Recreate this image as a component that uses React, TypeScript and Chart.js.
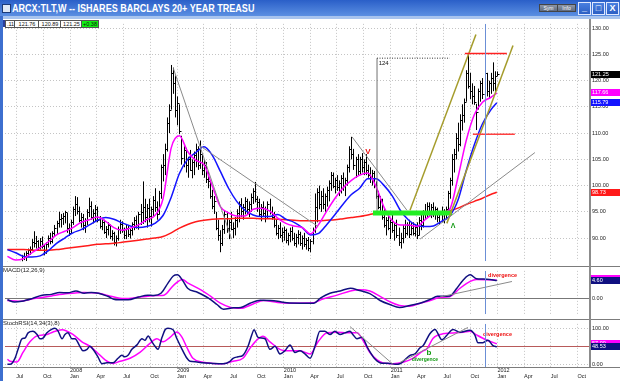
import React, { useEffect, useRef } from "react";
import { Chart, registerables } from "chart.js";

Chart.register(...registerables);

// ---------------- data (weekly bars, first bar = week ending 2007-06-01) ----------------
const firstBarDate = "2007-06-01";

const barHigh = [
  85.5, 85.4, 85.0, 84.8, 84.5, 84.8, 85.5, 86.8, 87.2, 87.5,
  88.0, 88.4, 89.8, 91.3, 90.4, 89.6, 90.0, 90.3, 88.8, 89.2,
  90.5, 91.0, 91.3, 92.5, 93.3, 95.0, 94.6, 94.8, 95.2, 94.8,
  92.8, 93.5, 96.0, 98.0, 97.8, 96.0, 94.8, 94.6, 93.8, 95.5,
  97.7, 97.0, 95.5, 96.3, 96.0, 94.2, 93.8, 93.5, 92.3, 93.0,
  92.6, 91.5, 91.2, 90.5, 92.2, 93.5, 93.2, 92.0, 92.6, 92.5,
  91.8, 93.0, 94.0, 94.3, 95.0, 96.5, 100.8, 97.5, 96.5, 97.5,
  96.0, 98.0, 99.5, 97.0, 99.0, 104.0, 106.0, 108.0, 113.0, 115.5,
  123.0, 122.5, 121.0, 117.0, 115.5, 109.5, 107.5, 107.2, 105.5, 106.8,
  105.0, 106.5, 108.0, 107.5, 108.6, 106.0, 105.0, 104.5, 102.8, 101.0,
  99.2, 98.0, 95.0, 93.5, 91.5, 92.5, 95.3, 95.0, 93.5, 95.0,
  93.0, 94.0, 95.5, 97.0, 97.6, 96.5, 97.8, 97.5, 97.0, 98.5,
  99.5, 100.7, 98.0, 97.5, 96.5, 97.0, 96.0, 97.0, 97.5, 96.0,
  95.0, 93.5, 92.5, 93.0, 92.0, 92.2, 91.8, 91.0, 92.0, 92.2,
  91.0, 90.8, 91.5, 91.2, 90.5, 91.0, 90.0, 90.2, 89.8, 92.0,
  98.5, 99.5, 100.0, 99.0, 99.5, 98.5, 99.8, 101.0, 102.6, 102.5,
  101.5, 102.0, 101.0, 102.0, 102.5, 101.5, 104.0, 107.5, 109.3, 107.0,
  105.5, 106.0, 105.5, 106.2, 105.0, 106.0, 104.0, 103.5, 103.0, 102.8,
  100.8, 99.0, 98.0, 97.5, 95.5, 94.0, 95.0, 93.5, 94.5, 93.0,
  93.5, 92.0, 91.0, 92.5, 93.5, 93.0, 93.5, 93.0, 93.0, 92.5,
  93.0, 94.0, 94.6, 95.3, 96.5, 96.8, 96.8, 96.5, 96.8, 96.0,
  95.8, 95.0, 96.0, 95.5, 96.0, 99.0, 101.5, 106.0, 107.0, 110.0,
  112.0, 113.6, 115.5, 116.6, 122.0, 125.2, 121.5, 119.5, 119.0, 115.6,
  118.5, 120.0, 120.5, 123.0, 121.5, 120.0, 121.5, 123.5, 121.8, 121.76,
];
const barLow = [
  84.8, 84.2, 83.8, 83.5, 82.8, 83.0, 84.0, 85.3, 85.8, 85.6,
  86.5, 86.8, 87.5, 88.2, 88.0, 87.6, 87.8, 88.0, 86.7, 87.0,
  88.2, 88.8, 89.0, 90.3, 90.8, 92.0, 92.0, 92.5, 92.8, 91.0,
  90.4, 90.8, 92.5, 94.2, 94.5, 93.0, 92.0, 91.5, 91.0, 92.5,
  94.0, 93.5, 92.8, 93.2, 93.0, 91.8, 91.5, 90.8, 90.0, 90.5,
  89.8, 89.5, 88.6, 88.4, 89.5, 90.8, 91.0, 89.8, 89.8, 90.2,
  89.9, 90.5, 91.5, 91.8, 91.6, 92.5, 92.7, 93.0, 92.0, 93.0,
  92.2, 94.0, 95.0, 93.5, 94.5, 97.5, 100.8, 102.0, 106.5, 110.0,
  114.5, 117.5, 113.0, 111.5, 109.8, 104.0, 103.5, 102.5, 101.5, 102.8,
  101.4, 102.0, 103.5, 103.0, 103.2, 102.0, 101.5, 100.5, 99.5, 97.5,
  95.5, 94.6, 91.5, 89.5, 87.3, 88.5, 90.8, 91.0, 89.8, 91.5,
  90.0, 90.5, 92.0, 93.0, 94.0, 93.5, 94.5, 94.5, 94.0, 95.0,
  96.5, 96.8, 95.0, 94.0, 93.2, 94.0, 93.0, 93.8, 94.5, 93.5,
  92.0, 90.5, 89.8, 90.0, 89.2, 89.5, 89.0, 88.6, 89.2, 89.5,
  88.5, 88.2, 88.8, 88.5, 87.8, 88.3, 87.8, 87.5, 87.3, 88.8,
  91.0, 93.0, 95.5, 95.0, 95.5, 95.0, 96.0, 97.0, 99.0, 99.5,
  98.5, 99.0, 98.0, 98.5, 99.0, 98.0, 100.0, 102.5, 105.0, 103.0,
  101.5, 102.0, 102.0, 102.5, 102.0, 102.0, 101.5, 100.5, 100.0, 99.5,
  97.5, 95.5, 95.2, 93.5, 92.0, 90.5, 91.5, 89.8, 91.0, 89.5,
  90.0, 88.5, 88.0, 89.0, 90.0, 90.5, 90.0, 90.5, 90.5, 90.3,
  89.8, 90.5, 91.5, 92.0, 93.5, 94.0, 94.2, 93.8, 94.0, 93.5,
  93.0, 92.5, 93.0, 92.8, 93.5, 95.0, 97.5, 100.0, 102.5, 105.0,
  106.5, 107.5, 110.5, 112.0, 116.0, 118.5, 116.5, 115.5, 115.4, 110.6,
  114.5, 116.0, 116.5, 117.5, 117.0, 116.6, 117.5, 118.0, 117.8, 120.89,
];
const barClose = [
  85.0, 84.5, 84.2, 84.0, 83.2, 84.5, 85.2, 86.5, 86.3, 87.2,
  87.8, 88.0, 89.3, 89.0, 89.5, 88.3, 89.4, 88.5, 87.3, 88.8,
  90.0, 89.4, 91.0, 92.0, 92.8, 93.6, 93.8, 94.2, 94.9, 92.0,
  91.0, 93.0, 95.5, 96.5, 95.2, 93.5, 94.0, 92.5, 93.5, 95.0,
  96.2, 94.0, 94.8, 95.6, 93.5, 92.3, 93.0, 91.2, 91.8, 92.4,
  90.3, 91.0, 89.2, 90.0, 91.8, 92.6, 91.5, 90.5, 92.0, 90.8,
  91.5, 92.6, 93.4, 92.2, 94.5, 95.0, 96.0, 94.0, 95.8, 94.2,
  95.5, 97.2, 96.0, 94.5, 98.5, 103.5, 104.0, 107.0, 112.0, 114.5,
  121.5, 119.5, 114.5, 115.8, 110.5, 105.2, 106.8, 104.0, 105.0, 103.0,
  104.5, 105.8, 107.0, 104.0, 106.0, 103.0, 104.0, 101.2, 100.8, 98.0,
  96.2, 97.0, 92.0, 90.5, 89.0, 91.8, 94.5, 92.0, 93.0, 91.8,
  92.0, 93.5, 94.8, 96.5, 95.2, 96.0, 97.0, 95.5, 96.5, 97.8,
  99.0, 97.5, 96.8, 94.5, 96.0, 94.8, 95.5, 96.5, 95.0, 94.0,
  92.5, 91.0, 92.0, 90.5, 91.2, 91.5, 89.6, 90.5, 91.4, 90.0,
  89.0, 90.2, 90.8, 89.0, 90.0, 88.8, 89.6, 88.2, 89.5, 91.6,
  96.0, 98.8, 96.5, 98.0, 96.5, 98.0, 99.2, 100.5, 102.0, 100.0,
  101.0, 99.8, 100.5, 101.5, 100.0, 101.0, 103.5, 107.0, 106.0, 104.0,
  105.0, 102.8, 105.0, 103.5, 104.5, 103.0, 102.0, 101.5, 102.5, 100.2,
  98.0, 96.0, 97.5, 94.0, 92.5, 93.5, 92.0, 93.0, 91.5, 92.5,
  90.5, 89.2, 90.0, 92.0, 91.0, 92.5, 90.8, 92.0, 91.0, 92.2,
  90.5, 93.5, 92.5, 94.8, 95.0, 96.2, 94.8, 96.0, 95.0, 95.5,
  94.0, 94.5, 93.5, 95.0, 95.5, 98.5, 101.0, 105.0, 106.0, 109.0,
  108.0, 112.5, 113.5, 116.0, 121.5, 119.0, 118.0, 117.0, 116.0, 114.0,
  118.0, 119.5, 117.5, 121.5, 118.0, 119.5, 120.5, 119.5, 120.9, 121.25,
];

const maWeeks = [0, 4, 8, 12, 16, 20, 24, 28, 32, 36, 40, 44, 48, 52, 56, 60, 64, 68, 72, 76, 80, 84, 88, 92, 96, 100, 104, 108, 112, 116, 120, 124, 128, 132, 136, 140, 144, 148, 152, 156, 160, 164, 168, 172, 176, 180, 184, 188, 192, 196, 200, 204, 208, 212, 216, 220, 224, 228, 232, 236, 239];
const maShort = [86.5, 85.8, 86.1, 87.2, 88.2, 89.3, 90.6, 91.3, 92.0, 93.0, 93.5, 94.0, 93.2, 92.0, 91.5, 91.9, 92.5, 93.5, 94.3, 97.5, 107.2, 109.5, 106.5, 104.8, 104.0, 100.0, 96.0, 94.8, 94.2, 94.2, 95.5, 95.7, 95.2, 93.8, 92.8, 92.3, 92.0, 90.8, 92.6, 95.2, 97.6, 99.6, 101.0, 102.0, 102.4, 99.8, 95.8, 93.3, 92.5, 92.5, 92.2, 93.5, 94.6, 94.8, 95.5, 101.5, 108.5, 113.5, 115.9, 116.8, 117.66];
const maMid = [87.8, 87.2, 86.5, 86.4, 86.6, 87.6, 89.0, 90.0, 91.0, 91.6, 92.5, 93.4, 93.9, 93.6, 92.9, 92.3, 92.0, 92.2, 92.8, 94.3, 97.8, 102.3, 105.0, 106.3, 107.4, 105.8, 102.7, 99.5, 97.0, 95.3, 94.4, 94.1, 94.1, 94.5, 93.6, 93.0, 92.0, 90.6, 90.9, 92.6, 94.5, 96.5, 98.3, 99.5, 101.3, 101.3, 100.0, 98.0, 95.2, 93.4, 92.4, 92.2, 92.3, 93.2, 94.2, 97.2, 102.8, 107.8, 111.8, 114.4, 115.79];
const maLong = [87.8, 87.8, 87.8, 87.7, 87.7, 87.7, 87.8, 88.0, 88.2, 88.4, 88.6, 88.8, 88.9, 89.0, 89.2, 89.4, 89.6, 89.8, 90.0, 90.3, 91.0, 91.9, 92.6, 93.1, 93.4, 93.6, 93.7, 93.7, 93.8, 93.8, 93.8, 93.7, 93.7, 93.6, 93.5, 93.4, 93.3, 93.3, 93.3, 93.4, 93.5, 93.7, 93.9, 94.1, 94.4, 94.7, 94.7, 94.7, 94.7, 94.7, 94.7, 94.7, 94.7, 94.9, 95.2, 95.7, 96.4, 97.0, 97.6, 98.3, 98.73];

// MACD(12,26,9)
const macdWeeks = [0, 3.5, 7, 12, 16.5, 21.5, 25.5, 29.5, 33.5, 37.5, 41, 44.5, 49, 53, 59, 64, 68.5, 71.5, 75, 78.5, 81, 83, 85.5, 88, 93, 98, 102.5, 105.5, 110.5, 114, 118.5, 123.5, 128.5, 132, 136.5, 143, 149.5, 153, 157.5, 162.5, 167.5, 172, 177, 182, 187, 191.5, 196.5, 201.5, 206.5, 210, 216, 219.5, 222.5, 226, 229, 232, 235.5, 239];
const macdLine = [-0.4, -1.0, -0.8, -0.1, 0.7, 1.0, 1.5, 1.4, 1.9, 1.3, 1.5, 1.3, 0.5, -0.4, -0.4, 0.3, 0.8, 0.7, 1.3, 4.0, 5.8, 6.1, 4.7, 2.6, 1.5, 0.1, -1.7, -2.9, -2.5, -2.4, -1.3, -0.5, -0.6, -0.8, -1.2, -1.3, -1.3, 0.1, 1.3, 1.9, 2.6, 2.0, 1.2, -0.6, -1.7, -2.4, -1.9, -1.3, -0.3, 0.5, 0.6, 2.6, 4.7, 6.1, 5.1, 5.0, 4.9, 4.6];
const signalWeeks = [0, 5.5, 13, 21.5, 29.5, 37.5, 44.5, 50.5, 57, 65, 73.5, 76.5, 81, 85.5, 88, 94.5, 99, 104, 109, 114, 120, 125, 132, 138, 149.5, 154, 161, 167.5, 172, 177, 182, 187, 191.5, 196.5, 201.5, 206.5, 211, 216, 221, 226, 229, 239];
const signalLine = [-0.6, -0.8, -0.1, 0.6, 1.2, 1.5, 1.3, 0.5, -0.1, 0.3, 0.7, 0.8, 3.3, 4.9, 4.0, 2.2, 0.6, -1.3, -2.4, -2.6, -1.5, -0.6, -1.1, -1.3, -1.2, -0.2, 0.8, 1.9, 2.2, 1.9, 0.5, -1.0, -1.9, -2.1, -1.3, -0.6, 0.2, 0.4, 2.6, 4.4, 4.9, 4.7];

// StochRSI(14,34(3),8)
const stochWeeks = [0, 1.3, 3.7, 5.2, 7.1, 8.6, 10.1, 12.5, 14.5, 15.9, 17.4, 19.3, 21.8, 23.2, 24.7, 26.7, 28.1, 29.6, 31.5, 33, 35.4, 36.9, 38.9, 40.3, 41.8, 44.2, 46.2, 48.6, 51.6, 54, 55.9, 57.4, 58.9, 60.8, 63.3, 65.7, 67.2, 68.7, 70.6, 72.1, 73.5, 75.5, 77, 78.4, 80.9, 82.8, 85.3, 87.7, 89.2, 92.6, 95.5, 100.4, 105.3, 108.7, 110.2, 112.6, 115, 117.5, 119.4, 120.4, 122.4, 125.8, 128.2, 130.7, 133.1, 135.5, 138, 140.4, 142.9, 145.3, 147.8, 150.2, 152.6, 155, 157.5, 159.9, 162.4, 164.8, 167.3, 168.7, 170.7, 173.1, 176, 179.5, 183, 186.8, 189.3, 191.7, 194.1, 196.6, 199, 201.5, 203, 206.3, 208.8, 212.2, 214.6, 217.6, 221, 225.9, 228.3, 229.8, 232.2, 234.7, 237.1, 239];
const stochK = [0, 0, 16.7, 41.7, 70.8, 73, 87.5, 91.7, 83, 70.8, 73, 87.5, 98, 100, 93, 71, 83, 87.5, 71, 71, 50, 37.5, 41.7, 50, 41.7, 20.8, 1.7, 4, 4, 16.7, 25, 21, 25, 41.7, 54, 71, 67, 79, 62.5, 50, 41.7, 75, 96, 100, 96, 71, 41.7, 16.7, 8.3, 6.7, 4, 2.5, 1.7, 8.3, 16.7, 20.8, 25, 50, 83, 96, 75, 71, 41.7, 50, 29, 37.5, 54, 33, 37.5, 29, 16.7, 50, 92, 92, 83, 92, 83, 87.5, 92, 83, 71, 75, 45, 15, 3, 2.5, 0, 1.7, 12.5, 25, 29, 46, 52, 85, 97, 68, 81, 97, 89, 95, 81, 60, 60, 67, 52, 48.53];
const stochSigWeeks = [0, 1.3, 4.7, 7.6, 11, 14.5, 19.3, 22.3, 26.7, 29.1, 32, 36.4, 40.3, 43.8, 47.7, 51.6, 55, 59.9, 64.7, 69.6, 73, 76, 79.4, 82.8, 85.3, 87.7, 90.6, 95.5, 100.4, 105.3, 110.2, 115, 118.5, 121.9, 124.8, 128.2, 133.1, 138, 142.9, 147.8, 151.7, 156.1, 161, 165.8, 170.7, 173.6, 177, 180.5, 183.4, 188.3, 193.2, 198, 203, 204.9, 207.8, 212.7, 219.5, 222.5, 225.9, 229.3, 234.2, 239];
const stochSig = [14, 8.3, 6.7, 33, 62.5, 79, 83, 90, 96, 92, 83, 62.5, 50, 33, 12.5, 2.5, 8.3, 16.7, 33, 58, 71, 62.5, 75, 90, 75, 46, 16.7, 5.8, 2.5, 1.7, 8.3, 16.7, 45, 68, 78, 62.5, 41.7, 37.5, 37.5, 29, 62.5, 87.5, 89, 87.5, 87.5, 67, 33, 12.5, 4, 1.7, 5.8, 16.7, 37.5, 43, 72, 85, 87.5, 89, 92, 81, 67, 57];

// axes / labels
const dateTicks = ["2007-07-01", "2007-10-01", "2008-01-01", "2008-04-01", "2008-07-01", "2008-10-01", "2009-01-01", "2009-04-01", "2009-07-01", "2009-10-01", "2010-01-01", "2010-04-01", "2010-07-01", "2010-10-01", "2011-01-01", "2011-04-01", "2011-07-01", "2011-10-01", "2012-01-01", "2012-04-01", "2012-07-01", "2012-10-01"];
const monthNames: Record<string, string> = { "01": "Jan", "04": "Apr", "07": "Jul", "10": "Oct" };
const priceTicks = [90, 95, 100, 105, 110, 115, 120, 125, 130];
const macdTicks = [0];
const stochTicks = [0, 100];
const stochMid = 50;
const infoCells = [".11", "121.76", "120.89", "121.25", "+0.38"];
const markerWeek = 233.2;

// ---------------- helpers ----------------
const t0 = Date.parse(firstBarDate + "T00:00:00Z");
const weekOf = (iso: string) => (Date.parse(iso + "T00:00:00Z") - t0) / (7 * 86400000);
const X_MIN = -1.17;
const X_MAX = 284.5;
const FAM = "Liberation Sans";
const tickFont = { family: FAM, size: 5.5, lineHeight: 1.04 };
const GRID = "#c4c4c4";
const last = (a: number[]) => a[a.length - 1];

type Seg = { a: [number, number]; b: [number, number]; color: string; w: number; dash?: number[] };
type Lab = { at: [number, number]; text: string; color: string; font: string; align?: CanvasTextAlign; base?: CanvasTextBaseline };
type Badge = { value: number; text: string; bg: string; fg: string };

const priceSegs: Seg[] = [
  { a: [81, 122.4], b: [109.5, 89.8], color: "#8a8a8a", w: 1 },
  { a: [94, 107.6], b: [151.7, 92.2], color: "#8a8a8a", w: 1 },
  { a: [168.3, 109.3], b: [195.1, 95.3], color: "#8a8a8a", w: 1 },
  { a: [180.5, 94.6], b: [180.5, 124.3], color: "#707070", w: 1 },
  { a: [180.5, 124.3], b: [216, 124.3], color: "#303030", w: 1, dash: [1, 1.5] },
  { a: [178.5, 94.8], b: [217.1, 94.8], color: "#22ee22", w: 5 },
  { a: [196.6, 95.3], b: [228.8, 128.8], color: "#a59c2c", w: 1.5 },
  { a: [214.6, 92.8], b: [246.9, 126.7], color: "#a59c2c", w: 1.5 },
  { a: [201.5, 89.8], b: [257.6, 106.3], color: "#8a8a8a", w: 1 },
  { a: [223.4, 125.2], b: [243.9, 125.2], color: "#ff2020", w: 1.5 },
  { a: [227.3, 109.8], b: [247.8, 109.8], color: "#ff4040", w: 1.5 },
];
const priceLabels: Lab[] = [
  { at: [176, 106.5], text: "V", color: "#ee1111", font: `bold 8px ${FAM}` },
  { at: [181.3, 123.8], text: "124", color: "#111", font: `6px ${FAM}`, align: "left", base: "top" },
  { at: [217.6, 92.2], text: "Λ", color: "#119911", font: `bold 7px ${FAM}` },
];
const macdSegs: Seg[] = [{ a: [211.2, 0.32], b: [246.4, 4.36], color: "#8a8a8a", w: 1 }];
const macdLabels: Lab[] = [{ at: [234.7, 6.0], text: "divergence", color: "#ee1111", font: `bold 5.5px ${FAM}`, align: "left" }];
const stochSegs: Seg[] = [
  { a: [167.3, 105], b: [188.3, 0], color: "#8a8a8a", w: 1 },
  { a: [191.7, 5], b: [224.9, 102.5], color: "#8a8a8a", w: 1 },
];
const stochLabels: Lab[] = [
  { at: [232.2, 82.5], text: "divergence", color: "#ee1111", font: `bold 5.5px ${FAM}`, align: "left" },
  { at: [205.9, 31], text: "b", color: "#119911", font: `bold 8px ${FAM}` },
  { at: [203.9, 12.5], text: "divergence", color: "#119911", font: `bold 5px ${FAM}` },
];

function overlay(opts: { bars?: boolean; segs: Seg[]; labels: Lab[]; refs: { value: number; color: string }[]; badges: Badge[] }) {
  return {
    id: "overlay",
    beforeDatasetsDraw(chart: any) {
      const { ctx, chartArea: a } = chart;
      const xs = chart.scales.x;
      const ys = chart.scales.y;
      ctx.save();
      ctx.beginPath();
      ctx.rect(a.left, a.top, a.right - a.left, a.bottom - a.top);
      ctx.clip();
      for (const r of opts.refs) {
        const py = Math.round(ys.getPixelForValue(r.value)) + 0.5;
        ctx.strokeStyle = r.color;
        ctx.lineWidth = 1;
        ctx.beginPath();
        ctx.moveTo(a.left, py);
        ctx.lineTo(a.right, py);
        ctx.stroke();
      }
      if (opts.bars) {
        ctx.strokeStyle = "#000";
        ctx.lineWidth = 1;
        ctx.beginPath();
        for (let i = 0; i < barClose.length; i++) {
          const px = Math.round(xs.getPixelForValue(i)) + 0.5;
          const yh = ys.getPixelForValue(barHigh[i]);
          const yl = ys.getPixelForValue(barLow[i]);
          const yc = Math.round(ys.getPixelForValue(barClose[i])) + 0.5;
          ctx.moveTo(px, yh);
          ctx.lineTo(px, yl);
          ctx.moveTo(px, yc);
          ctx.lineTo(px + 2, yc);
        }
        ctx.stroke();
      }
      ctx.restore();
    },
    afterDatasetsDraw(chart: any) {
      const { ctx, chartArea: a } = chart;
      const xs = chart.scales.x;
      const ys = chart.scales.y;
      ctx.save();
      ctx.beginPath();
      ctx.rect(a.left, a.top, a.right - a.left, a.bottom - a.top);
      ctx.clip();
      for (const s of opts.segs) {
        ctx.strokeStyle = s.color;
        ctx.lineWidth = s.w;
        ctx.setLineDash(s.dash || []);
        ctx.beginPath();
        ctx.moveTo(xs.getPixelForValue(s.a[0]), ys.getPixelForValue(s.a[1]));
        ctx.lineTo(xs.getPixelForValue(s.b[0]), ys.getPixelForValue(s.b[1]));
        ctx.stroke();
      }
      ctx.setLineDash([]);
      for (const l of opts.labels) {
        ctx.fillStyle = l.color;
        ctx.font = l.font;
        ctx.textAlign = l.align || "center";
        ctx.textBaseline = l.base || "middle";
        ctx.fillText(l.text, xs.getPixelForValue(l.at[0]), ys.getPixelForValue(l.at[1]));
      }
      const mx = Math.round(xs.getPixelForValue(markerWeek)) + 0.5;
      ctx.strokeStyle = "#6b8fd6";
      ctx.lineWidth = 1;
      ctx.beginPath();
      ctx.moveTo(mx, a.top);
      ctx.lineTo(mx, a.bottom);
      ctx.stroke();
      ctx.restore();
    },
    afterDraw(chart: any) {
      const { ctx, chartArea: a } = chart;
      const ys = chart.scales.y;
      ctx.save();
      for (const b of opts.badges) {
        const py = ys.getPixelForValue(b.value);
        ctx.fillStyle = b.bg;
        ctx.fillRect(a.right + 1, Math.round(py - 3.5), 29, 7);
        ctx.fillStyle = b.fg;
        ctx.font = `5.5px ${FAM}`;
        ctx.textAlign = "left";
        ctx.textBaseline = "middle";
        ctx.fillText(b.text, a.right + 2, Math.round(py - 3.5) + 3.7);
      }
      ctx.restore();
    },
  };
}

function xAxis(labels: boolean) {
  return {
    type: "linear",
    min: X_MIN,
    max: X_MAX,
    afterBuildTicks: (s: any) => {
      s.ticks = dateTicks.map((d) => ({ value: weekOf(d) }));
    },
    afterFit: (s: any) => {
      s.height = labels ? 14 : 0;
    },
    ticks: {
      display: labels,
      autoSkip: false,
      maxRotation: 0,
      minRotation: 0,
      align: "start",
      padding: 1,
      color: "#222",
      font: tickFont,
      callback: (_v: any, i: number) => {
        const [yy, mm] = dateTicks[i].split("-");
        return [mm === "01" ? yy : "", monthNames[mm]];
      },
    },
    grid: { color: GRID, lineWidth: 1, drawTicks: false },
    border: { display: false, dash: [1, 2] },
  };
}

function yAxis(min: number, max: number, ticks: number[]) {
  return {
    position: "right",
    min,
    max,
    afterBuildTicks: (s: any) => {
      s.ticks = ticks.map((v) => ({ value: v }));
    },
    afterFit: (s: any) => {
      s.width = 30;
    },
    ticks: { color: "#222", font: tickFont, padding: 2, callback: (v: any) => Number(v).toFixed(2) },
    grid: { color: GRID, lineWidth: 1, drawTicks: false },
    border: { display: false, dash: [1, 2] },
  };
}

function series(xs: number[], ys: number[], color: string, width: number) {
  return {
    type: "line",
    data: xs.map((x, i) => ({ x, y: ys[i] })),
    borderColor: color,
    borderWidth: width,
    pointRadius: 0,
    fill: false,
    cubicInterpolationMode: "monotone",
  };
}

function baseOptions(x: any, y: any) {
  return {
    responsive: false,
    animation: false,
    events: [],
    layout: { padding: { left: 5, right: 0, top: 0, bottom: 0 }, autoPadding: false },
    plugins: { legend: { display: false }, tooltip: { enabled: false } },
    scales: { x, y },
  };
}

const Box = (p: { l: number; t: number; w: number; h: number; bg: string; style?: any; children?: any }) => (
  <div style={{ position: "absolute", left: p.l, top: p.t, width: p.w, height: p.h, background: p.bg, ...(p.style || {}) }}>{p.children}</div>
);

export default function App() {
  const priceRef = useRef<HTMLCanvasElement>(null);
  const macdRef = useRef<HTMLCanvasElement>(null);
  const stochRef = useRef<HTMLCanvasElement>(null);

  useEffect(() => {
    document.body.style.margin = "0";
    const charts: Chart[] = [];
    charts.push(
      new Chart(priceRef.current as HTMLCanvasElement, {
        type: "line",
        data: {
          datasets: [
            series(maWeeks, maShort, "#ff00ff", 1.5),
            series(maWeeks, maMid, "#1414ff", 1.5),
            series(maWeeks, maLong, "#ff1a1a", 1.5),
          ] as any,
        },
        options: baseOptions(xAxis(false), yAxis(85.6, 130.84, priceTicks)) as any,
        plugins: [
          overlay({
            bars: true,
            segs: priceSegs,
            labels: priceLabels,
            refs: [],
            badges: [
              { value: last(barClose), text: last(barClose).toFixed(2), bg: "#000", fg: "#fff" },
              { value: last(maShort), text: last(maShort).toFixed(2), bg: "#ff00ff", fg: "#fff" },
              { value: last(maMid), text: last(maMid).toFixed(2), bg: "#1414ff", fg: "#fff" },
              { value: last(maLong), text: last(maLong).toFixed(2), bg: "#ff1a1a", fg: "#fff" },
            ],
          }) as any,
        ],
      })
    );
    charts.push(
      new Chart(macdRef.current as HTMLCanvasElement, {
        type: "line",
        data: {
          datasets: [series(macdWeeks, macdLine, "#101080", 1.5), series(signalWeeks, signalLine, "#ff00ff", 1.5)] as any,
        },
        options: baseOptions(xAxis(false), yAxis(-4.15, 7.13, macdTicks)) as any,
        plugins: [
          overlay({
            segs: macdSegs,
            labels: macdLabels,
            refs: [{ value: 0, color: "#777" }],
            badges: [
              { value: last(signalLine) + 0.4, text: "", bg: "#ff00ff", fg: "#fff" },
              { value: last(macdLine), text: last(macdLine).toFixed(2), bg: "#101080", fg: "#fff" },
            ],
          }) as any,
        ],
      })
    );
    charts.push(
      new Chart(stochRef.current as HTMLCanvasElement, {
        type: "line",
        data: {
          datasets: [series(stochWeeks, stochK, "#101080", 1.5), series(stochSigWeeks, stochSig, "#ff00ff", 1.5)] as any,
        },
        options: baseOptions(xAxis(true), yAxis(-7.5, 112.5, stochTicks)) as any,
        plugins: [
          overlay({
            segs: stochSegs,
            labels: stochLabels,
            refs: [{ value: stochMid, color: "#b85a5a" }],
            badges: [
              { value: last(stochSig), text: last(stochSig).toFixed(2), bg: "#ff00ff", fg: "#fff" },
              { value: last(stochK), text: last(stochK).toFixed(2), bg: "#101080", fg: "#fff" },
            ],
          }) as any,
        ],
      })
    );
    return () => charts.forEach((c) => c.destroy());
  }, []);

  const cellX = [5, 14, 38, 60, 81];
  const cellW = [9, 24, 22, 21, 16];

  return (
    <div style={{ position: "fixed", left: 0, top: 0, width: 620, height: 381, background: "#fff", overflow: "hidden", fontFamily: `'${FAM}', Arial, sans-serif` }}>
      <canvas ref={priceRef} width={620} height={247} style={{ position: "absolute", left: 0, top: 19, display: "block" }} />
      <canvas ref={macdRef} width={620} height={53} style={{ position: "absolute", left: 0, top: 266, display: "block" }} />
      <canvas ref={stochRef} width={620} height={62} style={{ position: "absolute", left: 0, top: 319, display: "block" }} />

      {/* title bar */}
      <Box l={0} t={0} w={620} h={16} bg="linear-gradient(#2a5fc8, #5b8fe2)" />
      <Box l={0} t={16} w={620} h={3} bg="#a8c4ee" />
      <Box l={2} t={4} w={7} h={7} bg="#dfe8f6" style={{ border: "1px solid #1b3a78" }} />
      <div style={{ position: "absolute", left: 12, top: 2, whiteSpace: "nowrap", color: "#fff", fontWeight: "bold", fontSize: 10.5, lineHeight: "12px", transform: "scaleX(0.86)", transformOrigin: "left top" }}>
        ARCX:TLT,W -- ISHARES BARCLAYS 20+ YEAR TREASU
      </div>
      <Box l={539} t={4} w={17} h={6} bg="linear-gradient(#8d97a8, #5f6b80)" style={{ border: "1px solid #444", fontSize: 5, lineHeight: "6px", color: "#fff", textAlign: "center" }}>Sym</Box>
      <Box l={557} t={4} w={17} h={6} bg="linear-gradient(#8d97a8, #5f6b80)" style={{ border: "1px solid #444", fontSize: 5, lineHeight: "6px", color: "#fff", textAlign: "center" }}>Info</Box>
      {["_", "□", "X"].map((g, i) => (
        <Box key={g} l={578 + i * 14} t={2} w={11} h={11} bg="linear-gradient(#4a80e0, #2c5fc4)" style={{ border: "1px solid #dfe8ff", color: "#fff", fontSize: 9, lineHeight: "11px", textAlign: "center", fontWeight: "bold" }}>{g}</Box>
      ))}

      {/* frame */}
      <Box l={0} t={16} w={3} h={365} bg="#3d6fcf" />
      <Box l={3} t={266} w={617} h={1} bg="#7c7c7c" />
      <Box l={3} t={319} w={617} h={1} bg="#7c7c7c" />
      <Box l={3} t={367} w={617} h={1} bg="#7c7c7c" />
      <Box l={589} t={19} w={2} h={348} bg="#8c8c8c" />

      {/* info cells */}
      <Box l={3} t={20} w={2} h={7} bg="#2b3f9e" />
      {infoCells.map((c, i) => (
        <Box key={i} l={cellX[i]} t={20} w={cellW[i]} h={6} bg={i === infoCells.length - 1 ? "#11ee11" : "#fff"} style={{ border: "1px solid #555", fontSize: 5.5, lineHeight: "6px", textAlign: "center", color: "#111", whiteSpace: "nowrap" }}>{c}</Box>
      ))}

      {/* panel captions */}
      <div style={{ position: "absolute", left: 3, top: 267, fontSize: 6, lineHeight: "7px", color: "#222" }}>MACD(12,26,9)</div>
      <div style={{ position: "absolute", left: 3, top: 320, fontSize: 6, lineHeight: "7px", color: "#222" }}>StochRSI(14,34(3),8)</div>
    </div>
  );
}
